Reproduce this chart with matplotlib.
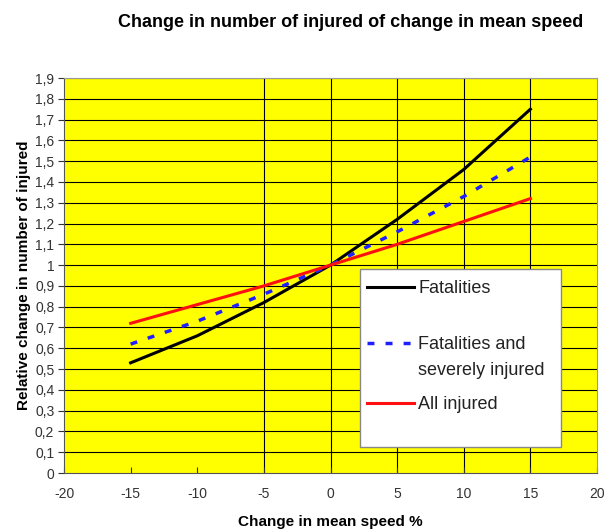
import matplotlib
matplotlib.use("Agg")
import matplotlib.pyplot as plt
from matplotlib.patches import Rectangle
from matplotlib.ticker import FuncFormatter

plt.rcParams['font.family'] = ['Liberation Sans Narrow', 'Liberation Sans', 'DejaVu Sans']
plt.rcParams['axes.unicode_minus'] = False

# data
speed_change = [-15, -10, -5, 0, 5, 10, 15]
fatalities = [0.53, 0.66, 0.82, 1.0, 1.22, 1.46, 1.75]
fatal_severe = [0.62, 0.73, 0.86, 1.0, 1.16, 1.33, 1.52]
all_injured = [0.72, 0.81, 0.90, 1.0, 1.10, 1.21, 1.32]

x_ticks = [-20, -15, -10, -5, 0, 5, 10, 15, 20]
y_ticks = [i / 10 for i in range(20)]
vgrid_x = [-5, 0, 5, 10, 15]

labels = ["Fatalities", "Fatalities and\nseverely injured", "All injured"]
colors = ["black", "#2020ff", "#ff1010"]


def comma_fmt(v, pos):
    s = ("%.1f" % v).replace(".", ",")
    if s.endswith(",0"):
        s = s[:-2]
    return s


fig = plt.figure(figsize=(6.05, 5.31), dpi=100)
ax = fig.add_axes([0.1058, 0.1092, 0.881, 0.7439])
ax.set_facecolor("#ffff00")

ax.set_xlim(-20, 20)
ax.set_ylim(0, 1.9)

# grid: horizontal at every tick, vertical only at some
for y in y_ticks[1:]:
    ax.axhline(y, color="black", lw=0.8, zorder=1)
for x in vgrid_x:
    ax.axvline(x, color="black", lw=0.8, zorder=1)

ax.plot(speed_change, fatalities, color=colors[0], lw=2.2, zorder=3)
ax.plot(speed_change, fatal_severe, color=colors[1], lw=2.5, dashes=(2.0, 3.2), zorder=3)
ax.plot(speed_change, all_injured, color=colors[2], lw=2.2, zorder=3)

ax.set_xticks(x_ticks)
ax.set_yticks(y_ticks)
ax.yaxis.set_major_formatter(FuncFormatter(comma_fmt))
ax.tick_params(axis="x", direction="in", length=4, labelsize=10, pad=10, colors="#333333")
ax.tick_params(axis="y", direction="out", length=4, labelsize=10, pad=3, colors="#333333")

for s in ["top", "right"]:
    ax.spines[s].set_color("#999999")
for s in ["left", "bottom"]:
    ax.spines[s].set_color("#555555")

ax.set_xlabel("Change in mean speed %", fontsize=11, fontweight="bold", labelpad=10)
ax.set_ylabel("Relative change in number of injured", fontsize=11, fontweight="bold", labelpad=3)
fig.text(0.58, 0.958, "Change in number of injured of change in mean speed",
         ha="center", va="center", fontsize=13, fontweight="bold")

# legend box drawn by hand to keep the spacing of the original
box = Rectangle((0.555, 0.066), 0.378, 0.451, transform=ax.transAxes,
                facecolor="white", edgecolor="#888888", lw=1.0, zorder=5)
ax.add_patch(box)
leg_y = [0.471, 0.329, 0.177]
styles = [dict(lw=2.2), dict(lw=2.5, dashes=(2.0, 3.2)), dict(lw=2.2)]
for ly, lab, c, st in zip(leg_y, labels, colors, styles):
    ax.plot([0.568, 0.656], [ly, ly], color=c, transform=ax.transAxes,
            clip_on=False, zorder=6, **st)
    if "\n" in lab:
        # first line sits at the handle height
        ax.text(0.665, ly + 0.018, lab, transform=ax.transAxes, fontsize=13,
                va="top", ha="left", color="#222222", zorder=6, linespacing=1.7)
    else:
        ax.text(0.665, ly - 0.004, lab, transform=ax.transAxes, fontsize=13,
                va="center", ha="left", color="#222222", zorder=6)

fig.savefig("out.png", dpi=100)
